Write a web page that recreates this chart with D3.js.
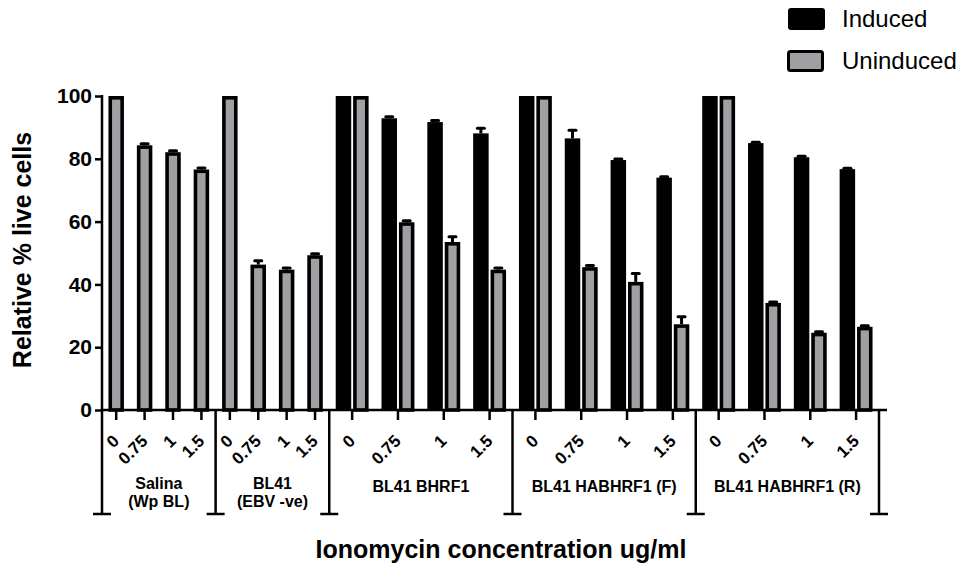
<!DOCTYPE html>
<html>
<head>
<meta charset="utf-8">
<script src="https://cdn.jsdelivr.net/npm/d3@7"></script>
<style>
  html, body { margin: 0; padding: 0; background: #fff; }
  svg { display: block; }
  text { font-family: "Liberation Sans", Arial, sans-serif; fill: #000; }
</style>
</head>
<body>
<svg id="chart" width="969" height="567"></svg>
<script>
const groupNames = ["Salina\n(Wp BL)", "BL41\n(EBV -ve)", "BL41 BHRF1", "BL41 HABHRF1 (F)", "BL41 HABHRF1 (R)"];
const concentrations = ["0", "0.75", "1", "1.5"];
const seriesNames = ["Induced", "Uninduced"];

// null = not measured for that cell line
const inducedMean = [
  [null, null, null, null],
  [null, null, null, null],
  [100, 92.9, 91.7, 88.1],
  [100, 86.5, 79.6, 74.0],
  [100, 85.0, 80.5, 76.7]
];
const inducedSem = [
  [0, 0, 0, 0],
  [0, 0, 0, 0],
  [0, 0.5, 0.5, 1.6],
  [0, 2.6, 0.3, 0.3],
  [0, 0.3, 0.3, 0.3]
];
const uninducedMean = [
  [100, 84.3, 82.1, 76.6],
  [100, 46.3, 44.7, 49.3],
  [100, 59.8, 53.5, 44.7],
  [100, 45.5, 40.8, 27.3],
  [100, 34.1, 24.6, 26.5]
];
const uninducedSem = [
  [0, 0.5, 0.5, 0.5],
  [0, 1.2, 0.5, 0.5],
  [0, 0.5, 1.7, 0.5],
  [0, 0.5, 2.7, 2.4],
  [0, 0.3, 0.3, 0.3]
];
const yTicks = [0, 20, 40, 60, 80, 100];

const svg = d3.select("#chart");
const x0 = 102, x1 = 879, yTop = 96, yBase = 410;
const gapUnits = 0.632;
const barFrac = 0.89;
const black = "#000", gray = "#a0a0a4";

// build slots: one slot per concentration, width = number of bars + gap
const slots = [];
const groups = [];
let pos = 0;
groupNames.forEach((name, g) => {
  const start = pos;
  concentrations.forEach((c, i) => {
    const bars = [];
    if (inducedMean[g][i] != null) bars.push({ series: 0, v: inducedMean[g][i], e: inducedSem[g][i] });
    if (uninducedMean[g][i] != null) bars.push({ series: 1, v: uninducedMean[g][i], e: uninducedSem[g][i] });
    const w = bars.length + gapUnits;
    slots.push({ g, label: c, center: pos + w / 2, bars });
    pos += w;
  });
  groups.push({ name, start, end: pos });
});

const x = d3.scaleLinear().domain([0, pos]).range([x0, x1]);
const y = d3.scaleLinear().domain([0, 100]).range([yBase, yTop]);
const unit = x(1) - x(0);

// bars
const barG = svg.append("g");
slots.forEach(s => {
  const n = s.bars.length;
  s.bars.forEach((b, i) => {
    const left = x(s.center - n / 2 + i + (1 - barFrac) / 2);
    const w = unit * barFrac;
    if (b.series === 0) {
      barG.append("rect")
        .attr("x", left).attr("y", y(b.v))
        .attr("width", w).attr("height", y(0) - y(b.v))
        .attr("fill", black);
    } else {
      barG.append("rect")
        .attr("x", left + 1.8).attr("y", y(b.v) + 1.8)
        .attr("width", w - 3.6).attr("height", y(0) - y(b.v) - 1.8)
        .attr("fill", gray).attr("stroke", black).attr("stroke-width", 3.6);
    }
    if (b.e > 0) {
      const cx = left + w / 2;
      barG.append("line")
        .attr("x1", cx).attr("x2", cx)
        .attr("y1", y(b.v)).attr("y2", y(b.v + b.e))
        .attr("stroke", black).attr("stroke-width", 3);
      barG.append("line")
        .attr("x1", cx - 3.5).attr("x2", cx + 3.5)
        .attr("y1", y(b.v + b.e)).attr("y2", y(b.v + b.e))
        .attr("stroke", black).attr("stroke-width", 3).attr("stroke-linecap", "round");
    }
  });
});

// y axis
const yAxis = svg.append("g")
  .attr("transform", `translate(${x0},0)`)
  .call(d3.axisLeft(y).tickValues(yTicks).tickSize(7).tickSizeOuter(0).tickPadding(3));
yAxis.select(".domain").remove();
yAxis.selectAll(".tick line").attr("stroke", black).attr("stroke-width", 2.5);
yAxis.selectAll(".tick text")
  .attr("font-family", "Liberation Sans, Arial, sans-serif")
  .attr("font-size", 21).attr("font-weight", "bold").attr("fill", black);
svg.append("line")
  .attr("x1", x0).attr("x2", x0).attr("y1", y(100) - 1).attr("y2", yBase)
  .attr("stroke", black).attr("stroke-width", 2.5);

// x axis line and concentration ticks
const axisG = svg.append("g");
axisG.append("line")
  .attr("x1", x0 - 1).attr("x2", x1 + 8).attr("y1", yBase).attr("y2", yBase)
  .attr("stroke", black).attr("stroke-width", 2.5);
slots.forEach(s => {
  axisG.append("line")
    .attr("x1", x(s.center)).attr("x2", x(s.center))
    .attr("y1", yBase).attr("y2", yBase + 10)
    .attr("stroke", black).attr("stroke-width", 2.5);
  axisG.append("text")
    .attr("transform", `translate(${x(s.center) + 4},442) rotate(-45)`)
    .attr("text-anchor", "end")
    .attr("font-size", 17).attr("font-weight", "bold")
    .text(s.label);
});

// group separators and labels
const sepBottom = 514;
const bounds = [groups[0].start].concat(groups.map(g => g.end));
bounds.forEach(b => {
  axisG.append("line")
    .attr("x1", x(b)).attr("x2", x(b)).attr("y1", yBase).attr("y2", sepBottom)
    .attr("stroke", black).attr("stroke-width", 2.5);
  axisG.append("line")
    .attr("x1", x(b) - 9).attr("x2", x(b) + 9).attr("y1", sepBottom).attr("y2", sepBottom)
    .attr("stroke", black).attr("stroke-width", 2.5);
});
groups.forEach(g => {
  const lines = g.name.split("\n");
  const t = axisG.append("text")
    .attr("text-anchor", "middle")
    .attr("font-size", 16).attr("font-weight", "bold");
  const cx = x((g.start + g.end) / 2);
  const baseY = lines.length > 1 ? 489 : 492;
  lines.forEach((ln, i) => {
    t.append("tspan").attr("x", cx).attr("y", baseY + i * 18).text(ln);
  });
});

// axis titles
svg.append("text")
  .attr("transform", "translate(31,250) rotate(-90)")
  .attr("text-anchor", "middle")
  .attr("font-size", 25).attr("font-weight", "bold")
  .text("Relative % live cells");
svg.append("text")
  .attr("x", 501).attr("y", 558)
  .attr("text-anchor", "middle")
  .attr("font-size", 25).attr("font-weight", "bold")
  .text("Ionomycin concentration ug/ml");

// legend
const legend = svg.append("g");
seriesNames.forEach((name, i) => {
  const ly = 8 + i * 42;
  if (i === 0) {
    legend.append("rect").attr("x", 788).attr("y", ly).attr("width", 37).attr("height", 22)
      .attr("rx", 3).attr("fill", black);
  } else {
    legend.append("rect").attr("x", 788.5).attr("y", ly + 1.5).attr("width", 34).attr("height", 19)
      .attr("rx", 2).attr("fill", gray).attr("stroke", black).attr("stroke-width", 3);
  }
  legend.append("text")
    .attr("x", 842).attr("y", ly + 19)
    .attr("font-size", 24)
    .text(name);
});
</script>
</body>
</html>
